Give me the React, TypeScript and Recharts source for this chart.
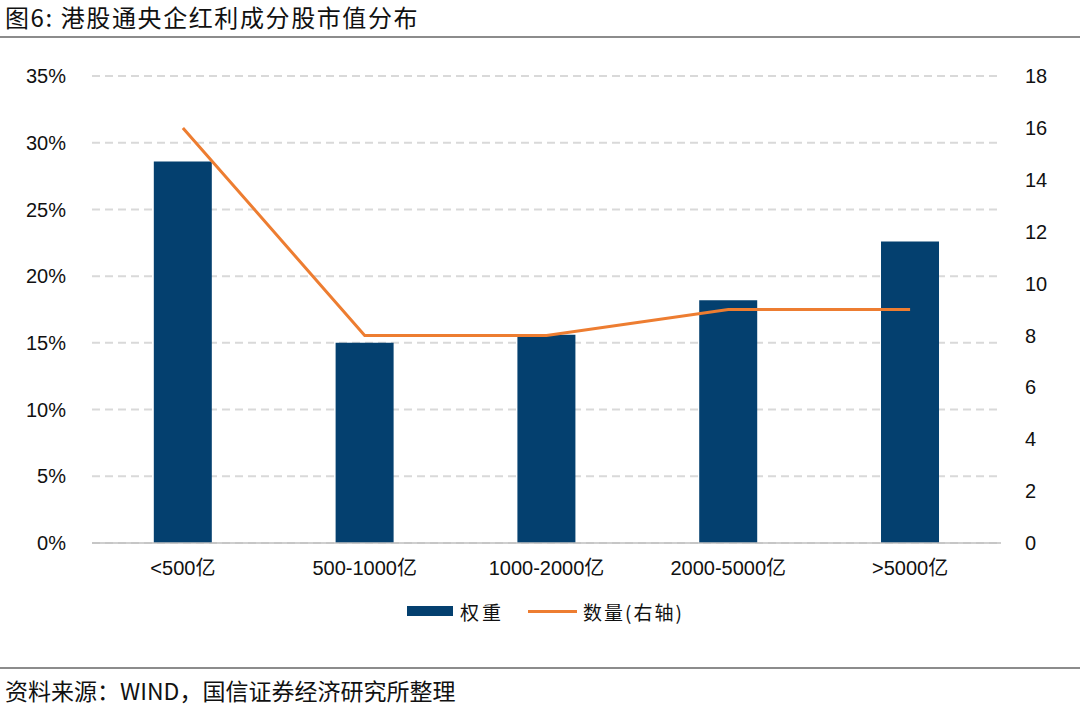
import React from "react";
import {
	Bar,
	CartesianGrid,
	ComposedChart,
	Line,
	XAxis,
	YAxis,
} from "recharts";

const categories = ["<500亿", "500-1000亿", "1000-2000亿", "2000-5000亿", ">5000亿"];
const weights = [28.6, 15.0, 15.6, 18.2, 22.6];
const counts = [16, 8, 8, 9, 9];
const leftTicks = [0, 5, 10, 15, 20, 25, 30, 35];
const rightTicks = [0, 2, 4, 6, 8, 10, 12, 14, 16, 18];

const data = categories.map((name, i) => ({
	name,
	weight: weights[i],
	count: counts[i],
}));

const FONT = '"Liberation Sans", Arial, "Noto Sans CJK SC", sans-serif';
const CJK = '"Noto Sans CJK SC", "Liberation Sans", sans-serif';

export default function App() {
	return (
		<div
			style={{
				position: "absolute",
				left: 0,
				top: 0,
				width: 1080,
				height: 707,
				background: "#fff",
				fontFamily: CJK,
			}}
		>
			<div
				style={{
					position: "absolute",
					left: 5,
					top: 1,
					fontSize: 24,
					letterSpacing: 1.6,
					color: "#111",
					lineHeight: "32px",
				}}
			>
				图6: 港股通央企红利成分股市值分布
			</div>
			<div
				style={{
					position: "absolute",
					left: 0,
					top: 36,
					width: 1080,
					height: 2,
					background: "#8c8c8c",
				}}
			/>
			<div style={{ position: "absolute", left: 0, top: 0 }}>
				<ComposedChart
					width={1080}
					height={590}
					data={data}
					margin={{ top: 76, right: 0, bottom: 7, left: 0 }}
					barCategoryGap="34%"
				>
					<CartesianGrid
						yAxisId="left"
						vertical={false}
						stroke="#d9d9d9"
						strokeDasharray="8 5"
						strokeWidth={2}
					/>
					<XAxis
						dataKey="name"
						height={40}
						tickLine={false}
						axisLine={{ stroke: "#bfbfbf", strokeWidth: 1.5 }}
						tick={{ fill: "#111", fontSize: 20, fontFamily: FONT }}
						tickMargin={12}
					/>
					<YAxis
						yAxisId="left"
						width={92}
						domain={[0, 35]}
						ticks={leftTicks}
						tickFormatter={(v) => `${v}%`}
						axisLine={false}
						tickLine={false}
						tick={{ fill: "#111", fontSize: 20, fontFamily: FONT }}
						tickMargin={20}
					/>
					<YAxis
						yAxisId="right"
						orientation="right"
						width={79}
						domain={[0, 18]}
						ticks={rightTicks}
						axisLine={false}
						tickLine={false}
						tick={{ fill: "#111", fontSize: 20, fontFamily: FONT }}
						tickMargin={18}
					/>
					<Bar
						yAxisId="left"
						dataKey="weight"
						fill="#04406f"
						isAnimationActive={false}
					/>
					<Line
						yAxisId="right"
						dataKey="count"
						stroke="#ed7d31"
						strokeWidth={3}
						dot={false}
						type="linear"
						isAnimationActive={false}
					/>
				</ComposedChart>
			</div>
			<div
				style={{
					position: "absolute",
					left: 407,
					top: 598,
					display: "flex",
					alignItems: "center",
					fontSize: 19,
					color: "#111",
					height: 26,
				}}
			>
				<span
					style={{ width: 46, height: 10, background: "#04406f", display: "inline-block" }}
				/>
				<span style={{ marginLeft: 7, letterSpacing: 3 }}>权重</span>
				<span
					style={{
						marginLeft: 24,
						width: 49,
						height: 3,
						background: "#ed7d31",
						display: "inline-block",
					}}
				/>
				<span style={{ marginLeft: 6, letterSpacing: 2 }}>数量(右轴)</span>
			</div>
			<div
				style={{
					position: "absolute",
					left: 0,
					top: 667,
					width: 1080,
					height: 2,
					background: "#8c8c8c",
				}}
			/>
			<div
				style={{
					position: "absolute",
					left: 5,
					top: 675,
					fontSize: 23,
					color: "#111",
					lineHeight: "30px",
				}}
			>
				资料来源：WIND，国信证券经济研究所整理
			</div>
		</div>
	);
}
